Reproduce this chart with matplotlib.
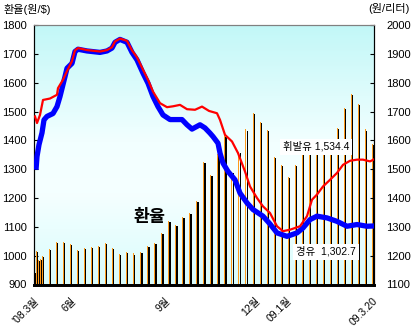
import numpy as np
import matplotlib
matplotlib.use("Agg")
import matplotlib.pyplot as plt
from matplotlib.colors import LinearSegmentedColormap
from matplotlib.transforms import ScaledTranslation

plt.rcParams['font.family'] = ['Liberation Sans', 'Noto Sans CJK KR', 'DejaVu Sans']

# ---- data ----
# exchange rate bars (won/$), left axis
early_days = [0.5, 3, 5, 7]
early_rates = [945, 1015, 986, 990]
week_rates = [1000, 1023, 1047, 1047, 1042, 1021, 1028, 1029, 1034, 1044,
              1028, 1007, 1014, 1008, 1014, 1034, 1045, 1078, 1120, 1106,
              1135, 1149, 1190, 1324, 1281, 1353, 1417, 1289, 1360, 1438,
              1496, 1465, 1435, 1342, 1315, 1272, 1315, 1390, 1390, 1390,
              1390, 1390, 1442, 1512, 1560, 1527, 1438, 1387]

# diesel (blue) and gasoline (red), right axis (won/liter)
diesel_days = [2, 3, 5, 8, 10, 13, 19, 23, 26, 31, 33, 38, 41, 44, 53, 66, 73, 78, 81, 86,
               93, 98, 103, 109, 114, 119, 124, 129, 136, 148, 153, 158, 166, 171, 176, 179,
               184, 186, 189, 194, 201, 206, 213, 219, 229, 236, 243, 253, 263, 269, 276,
               283, 293, 303, 313, 323, 333, 340]
diesel = [1498, 1544, 1585, 1626, 1671, 1683, 1693, 1717, 1752, 1821, 1850, 1867, 1908, 1916,
          1910, 1905, 1910, 1920, 1940, 1950, 1940, 1905, 1879, 1833, 1798, 1752, 1717, 1688,
          1672, 1672, 1654, 1639, 1654, 1643, 1625, 1613, 1590, 1556, 1521, 1492, 1463, 1417,
          1383, 1360, 1337, 1310, 1279, 1267, 1279, 1296, 1325, 1337, 1331, 1319, 1302, 1308,
          1302, 1303]

gas_days = [1, 3, 6, 9, 16, 23, 24, 29, 33, 38, 41, 44, 53, 66, 73, 78, 81, 86, 93, 98, 103,
            109, 114, 119, 126, 133, 139, 146, 153, 161, 168, 175, 183, 186, 191, 198, 204,
            211, 216, 223, 229, 236, 243, 249, 256, 266, 273, 278, 283, 289, 296, 303, 309,
            316, 323, 329, 336, 340]
gasoline = [1683, 1660, 1688, 1740, 1745, 1758, 1781, 1810, 1840, 1875, 1912, 1920, 1913, 1908,
            1913, 1923, 1943, 1953, 1945, 1912, 1888, 1845, 1810, 1769, 1729, 1715, 1718, 1723,
            1708, 1706, 1717, 1702, 1694, 1671, 1619, 1596, 1556, 1492, 1440, 1400, 1371, 1348,
            1302, 1285, 1290, 1302, 1337, 1394, 1412, 1440, 1463, 1487, 1515, 1529, 1533, 1533,
            1527, 1534]

tick_days = [0, 37, 131, 221, 252, 339]
tick_labels = ["'08.3월", '6월', '9월', '12월', '09.1월', '09.3.20']

left_ticks = list(range(900, 1801, 100))
right_ticks = list(range(1100, 2001, 100))

# ---- figure ----
fig = plt.figure(figsize=(4.13, 3.28), dpi=100)
ax = fig.add_axes([34/413, 1-284.5/328, 340/413, 259.5/328])

# gradient background
cmap = LinearSegmentedColormap.from_list('bg', [
    (0.0, (0.85, 0.99, 0.99)),
    (0.35, (0.96, 1.0, 1.0)),
    (0.55, (0.95, 1.0, 1.0)),
    (1.0, (0.76, 0.97, 0.97))])
grad = np.linspace(0, 1, 256).reshape(-1, 1)
ax.imshow(grad, aspect='auto', cmap=cmap, extent=[0, 1, 0, 1],
          transform=ax.transAxes, origin='lower', zorder=0)

week_days = 9 + 7.03 * np.arange(len(week_rates))
bar_days = np.concatenate([early_days, week_days])
bar_vals = np.concatenate([early_rates, week_rates])
ax.bar(bar_days - 0.9, bar_vals, width=1.0, color='#ff9a1a', zorder=2)
ax.bar(bar_days + 0.4, np.array(bar_vals) - 4, width=1.4, color='black', zorder=2)

ax.set_xlim(0, 340)
ax.set_ylim(900, 1800)
ax.set_yticks(left_ticks)
ax.set_xticks(tick_days)
ax.set_xticklabels(tick_labels, rotation=45, ha='right', va='top',
                   rotation_mode='anchor', fontsize=7.5)
shift = ScaledTranslation(-5/100, 0, fig.dpi_scale_trans)
for lab in ax.get_xticklabels():
    lab.set_transform(lab.get_transform() + shift)
ax.tick_params(axis='x', length=0, pad=8)
ax.tick_params(axis='y', direction='in', length=3, labelsize=8, pad=5)

ax.spines['top'].set_color('#808080')
ax.spines['bottom'].set_linewidth(2)

ax2 = ax.twinx()
ax2.set_ylim(1100, 2000)
ax2.set_yticks(right_ticks)
ax2.tick_params(axis='y', direction='in', length=3, labelsize=8, pad=9)
ax2.plot(diesel_days, diesel, color='#0000ff', lw=3.8, zorder=3, solid_capstyle='butt')
ax2.plot(gas_days, gasoline, color='#ff0000', lw=1.6, zorder=4)
ax2.spines['top'].set_color('#808080')
ax2.spines['bottom'].set_linewidth(2)

ax2.text(282, 1578, '휘발유 1,534.4', fontsize=7.5, ha='center', va='center', zorder=6,
         bbox=dict(facecolor='white', edgecolor='none', pad=2))
ax2.text(292, 1214, '경유  1,302.7', fontsize=7.5, ha='center', va='center', zorder=6,
         bbox=dict(facecolor='white', edgecolor='none', pad=2))
ax.text(116, 1135, '환율', fontsize=12.5, fontweight='bold', ha='center', va='center', zorder=5)

fig.text(3/413, 1-9/328, '환율(원/$)', fontsize=8, ha='left', va='center')
fig.text(410/413, 1-9/328, '(원/리터)', fontsize=8, ha='right', va='center')

fig.savefig('out.png', dpi=100)
